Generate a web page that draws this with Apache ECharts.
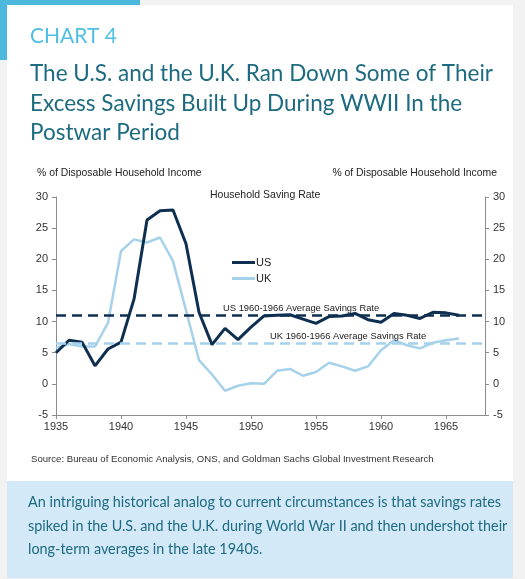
<!DOCTYPE html>
<html>
<head>
<meta charset="utf-8">
<script src="https://cdn.jsdelivr.net/npm/echarts@6/dist/echarts.min.js"></script>
<style>
html,body{margin:0;padding:0;background:#f2f2f2;}
#c{width:525px;height:579px;}
</style>
</head>
<body>
<div id="c"></div>
<script>
// ---- data ----
const years = [1935,1936,1937,1938,1939,1940,1941,1942,1943,1944,1945,1946,1947,1948,1949,1950,1951,1952,1953,1954,1955,1956,1957,1958,1959,1960,1961,1962,1963,1964,1965,1966];
const usRate = [5.0,7.0,6.7,2.9,5.6,6.7,13.6,26.3,27.8,27.9,22.5,11.5,6.3,8.9,7.1,9.1,10.9,11.0,11.1,10.4,9.7,10.8,10.9,11.3,10.3,9.9,11.3,11.0,10.5,11.5,11.4,11.0];
const ukRate = [5.8,6.4,6.0,6.0,9.8,21.3,23.2,22.7,23.5,19.7,11.8,3.8,1.5,-1.1,-0.3,0.1,0.0,2.1,2.4,1.3,1.9,3.4,2.8,2.1,2.8,5.4,7.0,6.2,5.7,6.6,7.0,7.3];
const usAvg = 11.0;
const ukAvg = 6.5;
const xTicks = [1935,1940,1945,1950,1955,1960,1965];
const yTicks = [-5,0,5,10,15,20,25,30];
const seriesNames = ['US','UK'];
const titleTag = 'CHART 4';
const titleText = 'The U.S. and the U.K. Ran Down Some of Their\nExcess Savings Built Up During WWII In the\nPostwar Period';
const axisName = '% of Disposable Household Income';
const chartLabel = 'Household Saving Rate';
const usAvgLabel = 'US 1960-1966 Average Savings Rate';
const ukAvgLabel = 'UK 1960-1966 Average Savings Rate';
const sourceText = 'Source: Bureau of Economic Analysis, ONS, and Goldman Sachs Global Investment Research';
const footText = 'An intriguing historical analog to current circumstances is that savings rates\nspiked in the U.S. and the U.K. during World War II and then undershot their\nlong-term averages in the late 1940s.';

const US_C = '#0f2f50', UK_C = '#a6d1ea';
const TEAL = '#1d6b81';
const AX = 'Liberation Sans, Arial, sans-serif';

const chart = echarts.init(document.getElementById('c'), null, {renderer:'canvas'});
const pair = (a) => years.map((y,i)=>[y,a[i]]);

const yAxisCommon = {
  type:'value', min:-5, max:30, interval:5,
  axisLine:{show:true, lineStyle:{color:'#8c8c8c', width:1}},
  axisTick:{show:true, length:4, lineStyle:{color:'#8c8c8c'}},
  splitLine:{show:false},
  axisLabel:{color:'#333', fontFamily:AX, fontSize:11, margin:8}
};

chart.setOption({
  animation:false,
  backgroundColor:'#f2f2f2',
  graphic:[
    {type:'rect', shape:{x:7,y:5,width:506,height:476}, style:{fill:'#ffffff'}, z:-10, silent:true},
    {type:'rect', shape:{x:7,y:481,width:506,height:97}, style:{fill:'#d4e9f7'}, z:-10, silent:true},
    {type:'rect', shape:{x:0,y:0,width:140,height:5}, style:{fill:'#4cb9dc'}, z:-9, silent:true},
    {type:'rect', shape:{x:0,y:0,width:7,height:60}, style:{fill:'#4cb9dc'}, z:-9, silent:true},
    {type:'text', style:{text:titleTag, x:30, y:36, verticalAlign:'middle', fill:'#4fbfe2', font:'21px Lato, sans-serif'}},
    {type:'text', style:{text:titleText, x:30, y:59, verticalAlign:'top', fill:TEAL, font:'22.5px Lato, sans-serif', lineHeight:29.5}},
    {type:'text', style:{text:axisName, x:37, y:173, verticalAlign:'middle', fill:'#222', font:'10.4px '+AX}},
    {type:'text', style:{text:axisName, x:497, y:173, align:'right', verticalAlign:'middle', fill:'#222', font:'10.4px '+AX}},
    {type:'text', style:{text:chartLabel, x:210, y:195, verticalAlign:'middle', fill:'#222', font:'10.5px '+AX}},
    {type:'text', style:{text:sourceText, x:31, y:459, verticalAlign:'middle', fill:'#333', font:'9.6px '+AX}},
    {type:'text', style:{text:footText, x:28, y:491, verticalAlign:'top', fill:TEAL, font:'14.4px Lato, sans-serif', lineHeight:23.5}}
  ],
  grid:{left:56, right:40, top:197, bottom:164, containLabel:false},
  legend:{
    orient:'vertical', left:227, top:252, itemWidth:23, itemHeight:3, itemGap:5, icon:'rect',
    data:seriesNames, textStyle:{color:'#222', fontFamily:AX, fontSize:11, padding:[0,0,0,-4]}
  },
  xAxis:{
    type:'value', min:1935, max:1968,
    axisLine:{show:true, onZero:false, lineStyle:{color:'#8c8c8c'}},
    axisTick:{show:true, length:4, customValues:xTicks, lineStyle:{color:'#8c8c8c'}},
    axisLabel:{customValues:xTicks, formatter:(v)=>String(v), color:'#333', fontFamily:AX, fontSize:11, margin:6},
    splitLine:{show:false}
  },
  yAxis:[
    Object.assign({}, yAxisCommon, {position:'left'}),
    Object.assign({}, yAxisCommon, {position:'right'})
  ],
  series:[
    {name:'US', type:'line', data:pair(usRate), showSymbol:false, symbol:'none', lineStyle:{color:US_C, width:3}, itemStyle:{color:US_C}, z:4,
     markLine:{silent:true, symbol:'none', data:[{yAxis:usAvg}],
       lineStyle:{color:US_C, width:2.5, type:[10,6]},
       label:{show:true, position:'insideStartTop', formatter:usAvgLabel, distance:[167,2], color:'#222', fontFamily:AX, fontSize:9.4}}},
    {name:'UK', type:'line', data:pair(ukRate), showSymbol:false, symbol:'none', lineStyle:{color:UK_C, width:2.5}, itemStyle:{color:UK_C}, z:3,
     markLine:{silent:true, symbol:'none', data:[{yAxis:ukAvg}],
       lineStyle:{color:UK_C, width:2.5, type:[10,6]},
       label:{show:true, position:'insideStartTop', formatter:ukAvgLabel, distance:[214,2], color:'#222', fontFamily:AX, fontSize:9.4}}}
  ]
});
</script>
</body>
</html>
